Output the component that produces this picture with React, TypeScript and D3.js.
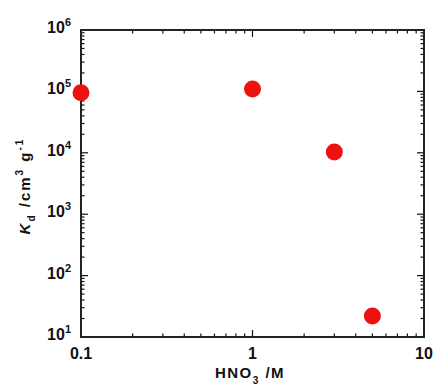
import React from "react";
import * as d3 from "d3";

const hno3 = [0.1, 1, 3, 5];
const kd = [9.5e4, 1.09e5, 1.03e4, 22];
const xMajor = [0.1, 1, 10];
const xMajorLabels = ["0.1", "1", "10"];
const yMajorExp = [1, 2, 3, 4, 5, 6];

const W = 436, H = 390;
const L = 81, R = 424, T = 30, B = 337;

export default function App() {
  const x = d3.scaleLog().domain([0.1, 10]).range([L, R]);
  const y = d3.scaleLog().domain([10, 1e6]).range([B, T]);
  const xMinor = x.ticks().filter((v) => !xMajor.some((m) => Math.abs(m - v) / m < 1e-6));
  const yMinor = y.ticks().filter((v) => Math.abs(Math.log10(v) - Math.round(Math.log10(v))) > 1e-6);
  const font = "'Liberation Sans', Arial, Helvetica, sans-serif";
  const maj = 7, mnr = 3.5;
  return (
    <svg width={W} height={H} style={{ position: "absolute", left: 0, top: 0, background: "#fff" }} fontFamily={font}>
      <rect x={0} y={0} width={W} height={H} fill="#fff" />
      <g stroke="#111" strokeWidth={1.2}>
        {xMinor.map((v, i) => (
          <g key={"xm" + i}>
            <line x1={x(v)} x2={x(v)} y1={B} y2={B - mnr} />
            <line x1={x(v)} x2={x(v)} y1={T} y2={T + mnr} />
          </g>
        ))}
        {yMinor.map((v, i) => (
          <g key={"ym" + i}>
            <line x1={L} x2={L + mnr} y1={y(v)} y2={y(v)} />
            <line x1={R} x2={R - mnr} y1={y(v)} y2={y(v)} />
          </g>
        ))}
        {xMajor.map((v, i) => (
          <g key={"xM" + i}>
            <line x1={x(v)} x2={x(v)} y1={B} y2={B - maj} />
            <line x1={x(v)} x2={x(v)} y1={T} y2={T + maj} />
          </g>
        ))}
        {yMajorExp.map((e, i) => (
          <g key={"yM" + i}>
            <line x1={L} x2={L + maj} y1={y(Math.pow(10, e))} y2={y(Math.pow(10, e))} />
            <line x1={R} x2={R - maj} y1={y(Math.pow(10, e))} y2={y(Math.pow(10, e))} />
          </g>
        ))}
      </g>
      <rect x={L} y={T} width={R - L} height={B - T} fill="none" stroke="#222" strokeWidth={2} />
      <g fill="#ee1111">
        {hno3.map((v, i) => (
          <circle key={i} cx={x(v)} cy={y(kd[i])} r={8.5} />
        ))}
      </g>
      <g fontWeight="bold" fill="#111">
        {yMajorExp.map((e, i) => (
          <text key={i} x={71} y={y(Math.pow(10, e)) + 3} textAnchor="end" fontSize={16}>
            <tspan>10</tspan>
            <tspan dy={-7} fontSize={11}>{e}</tspan>
          </text>
        ))}
        {xMajor.map((v, i) => (
          <text key={i} x={x(v)} y={359} textAnchor="middle" fontSize={16}>
            {xMajorLabels[i]}
          </text>
        ))}
        <text x={250} y={378} textAnchor="middle" fontSize={15} letterSpacing={1.5}>
          <tspan>HNO</tspan>
          <tspan dy={6} fontSize={10}>3</tspan>
          <tspan dy={-6}> /M</tspan>
        </text>
        <g transform="translate(30,186) rotate(-90)">
          <text x={0} y={0} textAnchor="middle" fontSize={15} letterSpacing={2}>
            <tspan fontStyle="italic">K</tspan>
            <tspan dy={5} fontSize={10}>d</tspan>
            <tspan dy={-5}> /cm</tspan>
            <tspan dy={-7} fontSize={10}>3</tspan>
            <tspan dy={7}> g</tspan>
            <tspan dy={-7} fontSize={10}>-1</tspan>
          </text>
        </g>
      </g>
    </svg>
  );
}
